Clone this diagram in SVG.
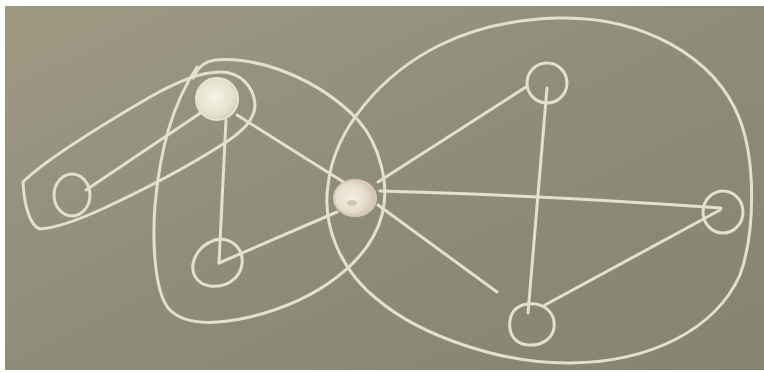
<svg xmlns="http://www.w3.org/2000/svg" width="764" height="372" viewBox="0 0 764 372">
  <defs>
    <linearGradient id="board" x1="0" y1="0" x2="1" y2="1">
      <stop offset="0" stop-color="#9e9983"/>
      <stop offset="0.5" stop-color="#8f8d78"/>
      <stop offset="1" stop-color="#85846f"/>
    </linearGradient>
    <radialGradient id="blob" cx="0.45" cy="0.45" r="0.6">
      <stop offset="0" stop-color="#f6f3e6"/>
      <stop offset="0.7" stop-color="#e6e2cc"/>
      <stop offset="1" stop-color="#cfcab2"/>
    </radialGradient>
    <radialGradient id="blobRed" cx="0.4" cy="0.5" r="0.65">
      <stop offset="0" stop-color="#f4efe2"/>
      <stop offset="0.6" stop-color="#e5dccb"/>
      <stop offset="1" stop-color="#c9b3a6"/>
    </radialGradient>
    <filter id="soft" x="-5%" y="-5%" width="110%" height="110%">
      <feGaussianBlur stdDeviation="0.5"/>
    </filter>
  </defs>
  <style>
    .chalk { fill: none; stroke: #e3e0cb; stroke-width: 3; stroke-linecap: round; stroke-linejoin: round; }
    .ring { fill: none; stroke: #e3e0cb; stroke-width: 3; }
  </style>
  <rect x="0" y="0" width="764" height="372" fill="#ffffff"/>
  <rect x="5" y="6" width="759" height="364" fill="url(#board)"/>

  <g filter="url(#soft)">
    <g id="hyperedges">
      <path id="loop-AB" class="chalk" d="M23,182 C40,165 90,132 150,97 C178,81 200,72 220,72 C240,72 254,86 255,105 C255,120 240,134 220,146 C190,165 150,187 100,210 C80,219 55,228 40,229 C30,226 24,205 23,182 Z"/>
      <path id="loop-AC" class="chalk" d="M193,78 C198,68 203,62 215,60 C260,56 320,80 358,120 C380,145 390,185 382,215 C370,260 320,300 250,317 C215,325 185,325 170,310 C155,295 152,245 155,205 C160,150 172,105 197,67"/>
      <path id="loop-right" class="chalk" d="M558,18 C640,16 715,55 740,120 C755,160 756,230 740,275 C715,330 650,362 571,363 C500,364 420,335 378,300 C340,270 322,225 328,185 C334,130 380,75 440,45 C475,28 515,19 558,18 Z"/>
    </g>

    <g id="connectors">
      <path class="chalk" d="M202,112 L86,190"/>
      <path class="chalk" d="M226,120 L219,263"/>
      <path class="chalk" d="M237,115 L345,183"/>
      <path class="chalk" d="M219,263 L337,212"/>
      <path class="chalk" d="M378,182 L526,87"/>
      <path class="chalk" d="M380,191 Q540,195 721,208"/>
      <path class="chalk" d="M378,205 L497,292"/>
      <path class="chalk" d="M547,88 Q538,200 528,313"/>
      <path class="chalk" d="M720,210 L545,305"/>
    </g>

    <g id="node-A">
      <circle cx="217" cy="99" r="21" fill="url(#blob)" stroke="#e8e5d2" stroke-width="2"/>
    </g>
    <g id="node-B">
      <ellipse class="ring" cx="72" cy="195" rx="18" ry="21"/>
    </g>
    <g id="node-C">
      <path class="chalk" d="M215,240 C230,236 244,248 242,264 C240,280 224,288 210,286 C196,284 190,272 194,260 C198,248 206,243 215,240 Z"/>
    </g>
    <g id="node-D">
      <ellipse cx="355" cy="198" rx="21" ry="18" fill="url(#blobRed)" stroke="#d8c9bb" stroke-width="2"/>
      <ellipse cx="352" cy="203" rx="5" ry="3" fill="#b7ad98" opacity="0.6"/>
    </g>
    <g id="node-E">
      <circle class="ring" cx="547" cy="83" r="20"/>
    </g>
    <g id="node-F">
      <ellipse class="ring" cx="723" cy="212" rx="20" ry="21"/>
    </g>
    <g id="node-G">
      <path class="chalk" d="M528,304 C545,302 556,314 554,328 C552,340 540,346 528,345 C515,344 508,334 510,320 C512,310 518,305 528,304 Z"/>
    </g>
  </g>
</svg>
